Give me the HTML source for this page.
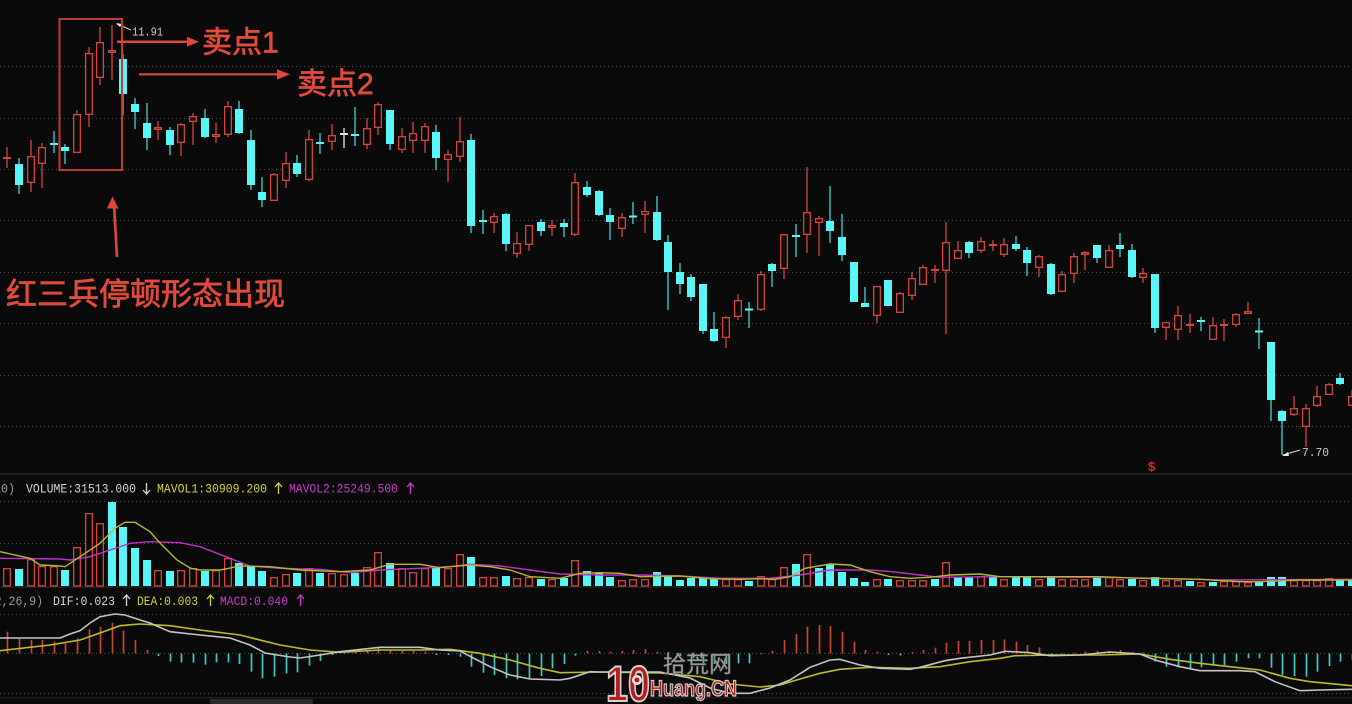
<!DOCTYPE html>
<html><head><meta charset="utf-8">
<style>
html,body{margin:0;padding:0;background:#0a0a0a;overflow:hidden;}
svg{display:block;}
</style></head>
<body>
<svg id="s" width="1352" height="704" viewBox="0 0 1352 704" xmlns="http://www.w3.org/2000/svg">
<rect width="1352" height="704" fill="#0a0a0a"/>
<g stroke="#4c4c4c" stroke-width="1" stroke-dasharray="1 3">
<line x1="0" x2="1352" y1="66.5" y2="66.5"/>
<line x1="0" x2="1352" y1="118.5" y2="118.5"/>
<line x1="0" x2="1352" y1="169.5" y2="169.5"/>
<line x1="0" x2="1352" y1="220.5" y2="220.5"/>
<line x1="0" x2="1352" y1="272.5" y2="272.5"/>
<line x1="0" x2="1352" y1="323.5" y2="323.5"/>
<line x1="0" x2="1352" y1="375.5" y2="375.5"/>
<line x1="0" x2="1352" y1="426.5" y2="426.5"/>
<line x1="0" x2="1352" y1="501.5" y2="501.5"/>
<line x1="0" x2="1352" y1="543.5" y2="543.5"/>
<line x1="0" x2="1352" y1="614.5" y2="614.5"/>
<line x1="0" x2="1352" y1="653.5" y2="653.5"/>
<line x1="0" x2="1352" y1="693.5" y2="693.5"/>
</g>
<rect x="0" y="473" width="1352" height="2" fill="#1f1f1f"/>
<rect x="0" y="586" width="1352" height="2" fill="#1c1c1c"/>
<rect x="0" y="697" width="1352" height="1.5" fill="#1c1c1c"/>
<rect x="210" y="699" width="103" height="5" rx="2" fill="#2a2a2a"/>

<g id="c"></g>

<polyline fill="none" stroke="#c030c8" stroke-width="1.4" points="0,558.3 60,559 70,560 90,556.7 110,550 130,543.3 150,541.7 180,542.7 200,546.7 230,558.3 250,566 280,568.3 320,569.3 350,572.7 380,570 420,568.3 450,566.7 470,564.3 500,566 530,570 560,574 600,575 640,575 680,576 720,578.3 770,578.3 800,575 830,570 870,570 892,571.7 920,575 940,577.3 1000,576.7 1100,577.3 1160,578.3 1220,580 1352,579.3"/>
<polyline fill="none" stroke="#b8b830" stroke-width="1.4" points="0,551.7 30,558.3 40,565 60,566 65,566.7 80,556.7 100,543.3 115,528.3 125,522.3 135,522.3 150,531.7 160,543 177,560 190,568 200,570 220,570 240,566 270,566.7 300,570 340,571.7 370,570 390,564.3 420,564.3 440,567.7 450,566.7 470,565 490,566.7 510,570 530,576.7 560,578.3 580,573.3 600,572.7 620,573.3 640,576.7 680,576 710,578.7 740,579.3 760,578.7 775,579.3 790,576.7 805,568.3 830,564 850,565 870,571.7 890,576.7 910,578.3 930,577.3 950,575 980,574 1000,576.7 1100,576.7 1140,578.3 1200,579.3 1240,581.7 1260,581.7 1300,580 1352,580"/>

<g id="m"></g>
<polyline fill="none" stroke="#bcbc2a" stroke-width="1.6" points="0,650.7 50,645 80,640 100,633 120,625.7 140,624 170,625.7 200,630 240,635 280,645 310,650 340,652.3 380,650 420,650 450,649.3 480,653.3 510,660 540,668.3 560,672.7 600,672 660,673 700,676.7 730,684 760,687 780,685 800,679 820,673.3 840,669.3 870,667.3 910,668.3 940,666.7 970,661.7 1000,658.3 1015,655.7 1050,655 1100,655 1140,654 1170,659.3 1200,663.3 1230,666.7 1260,670 1290,678.3 1310,681.7 1352,685.7"/>
<polyline fill="none" stroke="#c4c4c4" stroke-width="1.6" points="0,638 60,638 70,634 80,630.7 90,623 100,616.7 115,614 125,615 140,620 150,623 170,631.7 200,635 230,638 250,645 265,653 290,657 300,658 320,655 340,651.7 380,647.3 420,647.3 440,650 460,651 490,666.7 510,675 530,679 560,680 570,678.3 590,671.7 600,672 660,672 690,678 710,688 730,693.3 750,693.3 770,688 790,680 810,667.3 830,660 840,659.3 860,665 880,668.3 910,669.3 920,667.3 945,660.7 960,658.3 990,655 1005,651.3 1030,652.7 1050,655.7 1080,655 1110,652 1140,654 1155,660 1180,666.7 1200,670.7 1240,670.7 1255,671.7 1275,681.7 1300,690.7 1320,690 1352,689.3"/>

<g font-family="'Liberation Mono', monospace" font-size="13">
<text x="-27" y="492.5" fill="#9a9a9a" textLength="42" lengthAdjust="spacingAndGlyphs">(5,10)</text>
<text x="26" y="492.5" fill="#d4d4d4" textLength="110" lengthAdjust="spacingAndGlyphs">VOLUME:31513.000</text>
<text x="157" y="492.5" fill="#d2d232" textLength="110" lengthAdjust="spacingAndGlyphs">MAVOL1:30909.200</text>
<text x="289" y="492.5" fill="#c83cc8" textLength="109" lengthAdjust="spacingAndGlyphs">MAVOL2:25249.500</text>
<text x="-19" y="605" fill="#9a9a9a" textLength="62" lengthAdjust="spacingAndGlyphs">(12,26,9)</text>
<text x="53" y="605" fill="#d4d4d4" textLength="62" lengthAdjust="spacingAndGlyphs">DIF:0.023</text>
<text x="137" y="605" fill="#d2d232" textLength="61" lengthAdjust="spacingAndGlyphs">DEA:0.003</text>
<text x="220" y="605" fill="#c83cc8" textLength="68" lengthAdjust="spacingAndGlyphs">MACD:0.040</text>
</g>
<g fill="none" stroke-width="1.3">
<path d="M146.5 483 V494 M143 490 L146.5 494 L150 490" stroke="#d4d4d4"/>
<path d="M278.5 483 V494 M275 487 L278.5 483 L282 487" stroke="#d2d232"/>
<path d="M410.5 483 V494 M407 487 L410.5 483 L414 487" stroke="#c83cc8"/>
<path d="M126.5 595 V606 M123 599 L126.5 595 L130 599" stroke="#d4d4d4"/>
<path d="M210.5 595 V606 M207 599 L210.5 595 L214 599" stroke="#d2d232"/>
<path d="M300.5 595 V606 M297 599 L300.5 595 L304 599" stroke="#c83cc8"/>
</g>

<g font-family="'Liberation Mono', monospace" font-size="12" fill="#cfcfcf">
<text x="132" y="35.5" textLength="31" lengthAdjust="spacingAndGlyphs">11.91</text>
<text x="1302" y="456" textLength="27" lengthAdjust="spacingAndGlyphs">7.70</text>
</g>
<path d="M117 24 L131 30" stroke="#dcdcdc" stroke-width="1"/>
<path d="M116 23 L122 24 L120 27 Z" fill="#e8e8e8"/>
<path d="M1283 455 L1300 450" stroke="#dcdcdc" stroke-width="1"/>
<path d="M1282 456 L1288 452 L1289 456 Z" fill="#e8e8e8"/>
<text x="1148" y="471" font-family="'Liberation Sans', sans-serif" font-size="13" font-weight="bold" fill="#e02818">$</text>

<rect x="59.5" y="19" width="62.5" height="151" fill="none" stroke="#c23b30" stroke-width="2"/>
<line x1="117" y1="41.7" x2="189" y2="41.7" stroke="#e0473b" stroke-width="2.5"/>
<path d="M187 36.8 L199 41.7 L187 46.6 Z" fill="#e0473b"/>
<line x1="139" y1="74.3" x2="279" y2="74.3" stroke="#e0473b" stroke-width="2.2"/>
<path d="M277 69.3 L290 74.3 L277 79.6 Z" fill="#e0473b"/>
<line x1="117" y1="257" x2="114" y2="205" stroke="#e0473b" stroke-width="2.6"/>
<path d="M107 208.5 L112.5 196.5 L118.5 208.5 Z" fill="#e0473b"/>
<g font-family="'Liberation Sans','Noto Sans CJK SC',sans-serif" fill="#e24a3c" stroke="#e24a3c" stroke-width="0.7">
<text x="202" y="52.5" font-size="30">卖点1</text>
<text x="297" y="94" font-size="30">卖点2</text>
<text x="6" y="305" font-size="31">红三兵停顿形态出现</text>
</g>

<g>
<text x="606" y="701" font-family="'Liberation Sans',sans-serif" font-size="50" font-weight="bold" fill="#b81c1c" stroke="#d4d4d4" stroke-width="2" textLength="44" lengthAdjust="spacingAndGlyphs">10</text>
<circle cx="637" cy="680" r="5" fill="#e8e8e8"/>
<circle cx="637" cy="680" r="2.5" fill="#b81c1c"/>
<text x="663" y="672" font-family="'Liberation Sans','Noto Sans CJK SC',sans-serif" font-size="23" fill="#a8a8a8" stroke="#6a6a6a" stroke-width="0.6">拾荒网</text>
<text x="650" y="696" font-family="'Liberation Sans',sans-serif" font-size="22" font-weight="bold" fill="#b01c1c" stroke="#cfcfcf" stroke-width="1.2" textLength="87" lengthAdjust="spacingAndGlyphs">Huang.CN</text>
</g>
</svg>
<script>
(function(){
var NS='http://www.w3.org/2000/svg';
var g=document.getElementById('c');
var gm=document.getElementById('m');
function el(tag,a,p){var e=document.createElementNS(NS,tag);for(var k in a)e.setAttribute(k,a[k]);(p||g).appendChild(e);return e;}
var X0=-4.1,DX=11.59;
var RED='#d4443a',CY='#58f6f6',CYW='#44d2d2',BG='#0a0a0a';
var C=[
['c',156,160,152,165],['r',157,159,147,168],['c',164,185,158,194],['r',156,183,140,192],['r',147,164,143,188],
['c',143,145,131,153],['c',147,151,144,164],['r',114,153,110,153],['r',53,115,47,127],['r',42,78,27,85],
['r',50,53,25,80],['c',59,94,54,115],['c',104,112,98,129],['c',123,138,103,150],['r',127,130,121,140],
['c',130,145,127,155],['r',124,143,123,156],['r',116,122,113,145],['c',118,137,109,138],['r',134,137,123,143],
['r',106,135,101,137],['c',109,133,101,134],['c',140,185,130,190],['c',192,200,177,207],['r',174,201,173,201],
['r',163,181,152,188],['c',163,174,155,177],['r',139,180,130,181],['c',142,144,133,154],['r',135,142,124,150],
['w',133,135,128,148],['c',134,136,107,146],['r',128,145,118,149],['r',104,128,102,135],['c',110,144,110,150],
['r',136,150,128,153],['r',133,141,122,153],['r',126,141,123,153],['c',132,158,125,170],['r',154,160,150,182],
['r',141,157,117,162],['c',140,226,134,233],['c',220,222,210,234],['r',216,223,213,233],['c',214,244,213,251],
['r',243,254,232,258],['r',225,245,225,251],['c',222,231,219,236],['r',225,228,220,236],['c',223,227,219,237],
['r',182,235,173,236],['c',187,195,181,197],['c',191,215,190,216],['c',215,222,208,240],['r',217,229,213,237],
['c',216,217,202,224],['r',211,215,201,233],['c',212,240,196,241],['c',242,272,235,310],['c',272,284,263,294],
['c',277,297,274,301],['c',284,331,284,334],['c',329,341,312,342],['r',317,338,316,348],['r',300,317,294,320],
['c',309,310,302,328],['r',274,310,271,311],['c',264,271,263,287],['r',234,269,234,279],['c',235,237,224,257],
['r',212,235,167,253],['r',218,223,216,256],['c',221,231,186,243],['c',237,255,214,261],['c',262,302,262,302],
['c',303,307,287,307],['r',286,316,286,323],['c',280,306,280,306],['r',293,313,292,313],['r',278,296,272,300],
['r',267,285,265,285],['r',269,271,265,283],['r',242,271,222,334],['r',250,259,241,259],['c',242,253,241,258],
['r',241,251,237,253],['r',244,246,240,251],['r',244,255,238,257],['c',244,249,236,251],['c',250,263,247,276],
['r',256,268,255,277],['c',264,294,263,295],['r',274,292,271,292],['r',256,274,253,283],['r',252,255,251,270],
['c',245,258,245,263],['r',250,268,245,268],['c',245,249,233,257],['c',250,277,244,278],['r',273,278,268,283],
['c',274,328,274,333],['r',322,328,322,340],['r',315,330,306,340],['r',324,326,314,333],['c',320,322,317,331],
['r',325,340,317,340],['r',324,326,319,341],['r',314,325,313,327],['r',311,314,302,314],['c',331,332,318,349],
['c',342,400,342,421],['c',411,421,410,455],['r',408,415,396,416],['r',408,427,404,447],['r',396,406,386,407],
['r',384,395,383,395],['c',378,384,373,385],['r',396,406,390,406]
];
var V=[
['c',563],['r',568],['c',569],['r',559],['r',566],['r',566],['c',570],['r',547],['r',513],['r',523],
['c',502],['c',527],['c',548],['c',560],['r',570],['c',571],['r',570],['r',568],['c',571],['r',570],
['r',558],['c',563],['c',566],['c',571],['r',577],['r',574],['c',573],['r',568],['c',573],['r',573],
['r',574],['c',573],['r',567],['r',552],['c',563],['r',568],['r',572],['r',568],['c',568],['r',568],
['r',554],['c',557],['r',577],['r',577],['c',576],['r',578],['r',577],['c',579],['r',579],['c',578],
['r',560],['c',571],['c',573],['c',577],['r',580],['r',579],['r',579],['c',572],['c',576],['c',580],
['c',578],['c',578],['c',579],['r',579],['r',579],['c',581],['r',576],['r',579],['r',567],['c',564],
['r',554],['c',568],['c',564],['c',572],['c',578],['c',582],['r',579],['c',579],['r',580],['r',580],
['r',580],['c',579],['r',562],['c',577],['c',577],['r',576],['c',577],['r',579],['c',577],['c',577],
['r',579],['c',577],['r',579],['r',579],['r',579],['c',576],['r',577],['r',579],['c',579],['r',580],
['c',577],['r',580],['r',580],['c',581],['r',582],['c',582],['r',581],['r',581],['r',582],['c',582],
['c',577],['c',577],['r',580],['r',580],['r',580],['r',578],['c',580],['c',580]
];
var M=[null,631.7,639,640,640,641.7,642.7,638.3,629.3,626.7,622.7,630.7,640,650,656,661.7,662.3,662.7,664.7,662.3,
662.3,664,671.7,678.3,676.7,673.3,672.3,665.7,661,655,654,651.7,651,648,650,651,651,651.5,655,655,
656.7,666.7,672.7,675,678.3,679.3,678.3,676,668.3,664,655.7,650.7,651,651.5,651,650,649,651.5,652,656,
660,663,664,664,663.3,663.3,654.3,650.7,640,634,626.7,625,626,631.7,641.7,650,651.5,655,655.5,652,
650,647.7,642.7,641,641,640,640,639.3,641.7,645,647.3,655,654,652.5,651.5,651,651,650,652,652.5,
661.7,666.7,667.3,668.3,667.3,665.7,665,661.7,658.3,658.3,667.7,675,676,676.7,671.7,666,661.7,660];
var Z=653.5;
for(var i=0;i<M.length;i++){
 if(M[i]==null)continue;
 var cx=Math.round(X0+i*DX)+0.5;
 var v=M[i];
 var col=v<Z?'#c8423a':'#3fc6c6';
 el('line',{x1:cx,x2:cx,y1:Z,y2:v,stroke:col,'stroke-width':1.7},gm);
}
for(var i=0;i<V.length;i++){
 var left=Math.round(X0+i*DX-4);
 var t=V[i][0],top=V[i][1],h=586-top;
 if(t==='c') el('rect',{x:left,y:top,width:8,height:h,fill:CY});
 else el('rect',{x:left+0.65,y:top+0.65,width:6.7,height:h-0.65,fill:BG,stroke:RED,'stroke-width':1.3});
}
for(var i=0;i<C.length;i++){
 var d=C[i],t=d[0],bt=d[1],bb=d[2],wt=d[3],wb=d[4];
 var left=Math.round(X0+i*DX-4);
 var cx=left+4;
 var col=t==='c'?CY:(t==='w'?'#e4e4e4':RED);
 var wc=t==='c'?CYW:col;
 el('line',{x1:cx,x2:cx,y1:wt,y2:wb,stroke:wc,'stroke-width':1.3});
 var h=bb-bt;
 if(h<3){ el('rect',{x:left,y:(bt+bb)/2-1,width:8,height:2,fill:col}); }
 else if(t==='c'){ el('rect',{x:left,y:bt,width:8,height:h,fill:col}); }
 else { el('rect',{x:left+0.65,y:bt+0.65,width:6.7,height:h-1.3,fill:BG,stroke:col,'stroke-width':1.3}); }
}
})();
</script>
</body></html>
